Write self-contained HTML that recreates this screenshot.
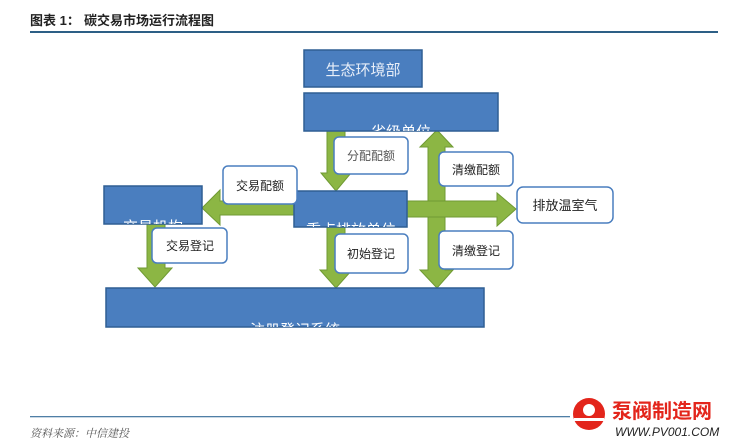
<!DOCTYPE html>
<html><head><meta charset="utf-8"><style>
html,body{margin:0;padding:0;background:#fff;}
svg{display:block;font-family:"Liberation Sans","Noto Sans CJK SC",sans-serif;}
</style></head><body>
<svg width="750" height="445" viewBox="0 0 750 445" xmlns="http://www.w3.org/2000/svg">
<defs><clipPath id="c1"><rect x="304" y="93" width="194" height="38"/></clipPath>
<clipPath id="c2"><rect x="294" y="191" width="113" height="36"/></clipPath>
<clipPath id="c3"><rect x="104" y="186" width="98" height="38"/></clipPath>
<clipPath id="c4"><rect x="106" y="288" width="378" height="39"/></clipPath></defs>
<text x="30" y="25" font-size="13" font-weight="bold" fill="#222">图表 1：</text>
<text x="84" y="25" font-size="13" font-weight="bold" fill="#222">碳交易市场运行流程图</text>
<rect x="30" y="31" width="688" height="2" fill="#2d5f86"/>
<rect x="30" y="416" width="540" height="1.3" fill="#4f7fa6"/>
<text x="30" y="437" font-size="11" font-style="italic" fill="#555" font-family="Liberation Serif,Noto Serif CJK SC,serif">资料来源：中信建投</text>

<g fill="#8cb644" stroke="#6f9a33" stroke-width="1">
<polygon points="327,131 345,131 345,173 351,173 336,191 321,173 327,173"/>
<polygon points="437,130 453,147 445,147 445,270 453,270 437,288 420,270 428,270 428,147 420,147"/>
<polygon points="407,201 497,201 497,193 516,209 497,226 497,217 407,217"/>
<polygon points="294,201 220,201 220,190 202,208 220,225 220,215 294,215"/>
<polygon points="147,224 165,224 165,268 172,268 155,287 138,268 147,268"/>
<polygon points="327,227 345,227 345,270 352,270 336,288 320,270 327,270"/>
</g>

<g fill="#4a7ebf" stroke="#2f5f94" stroke-width="1.5">
<rect x="304" y="50" width="118" height="37"/>
<rect x="304" y="93" width="194" height="38"/>
<rect x="294" y="191" width="113" height="36"/>
<rect x="104" y="186" width="98" height="38"/>
<rect x="106" y="288" width="378" height="39"/>
</g>
<g fill="#fff" font-size="15" text-anchor="middle">
<text x="363" y="75" fill="#e8eef8">生态环境部</text>
<text x="401" y="137" clip-path="url(#c1)">省级单位</text>
<text x="351" y="235" clip-path="url(#c2)">重点排放单位</text>
<text x="153" y="232" clip-path="url(#c3)">交易机构</text>
<text x="295" y="335" clip-path="url(#c4)">注册登记系统</text>
</g>

<g fill="#fff" stroke="#4a7ebf" stroke-width="1.5">
<rect x="334" y="137" width="74" height="37" rx="5"/>
<rect x="439" y="152" width="74" height="34" rx="5"/>
<rect x="223" y="166" width="74" height="38" rx="5"/>
<rect x="152" y="228" width="75" height="35" rx="5"/>
<rect x="335" y="234" width="73" height="39" rx="5"/>
<rect x="439" y="231" width="74" height="38" rx="5"/>
<rect x="517" y="187" width="96" height="36" rx="6"/>
</g>
<g fill="#222" font-size="12" text-anchor="middle">
<text x="371" y="160" fill="#555">分配配额</text>
<text x="476" y="174">清缴配额</text>
<text x="260" y="190">交易配额</text>
<text x="190" y="250">交易登记</text>
<text x="371" y="258">初始登记</text>
<text x="476" y="255">清缴登记</text>
<text x="565" y="210" font-size="13">排放温室气</text>
</g>

<circle cx="589" cy="414" r="16" fill="#e3251b"/>
<circle cx="589" cy="410" r="6" fill="#fff"/>
<rect x="574" y="418" width="30" height="3" fill="#fff"/>
<text x="612" y="418" font-size="20" font-weight="bold" fill="#e3251b">泵阀制造网</text>
<text x="615" y="436" font-size="12" font-style="italic" fill="#222">WWW.PV001.COM</text>
</svg>
</body></html>
